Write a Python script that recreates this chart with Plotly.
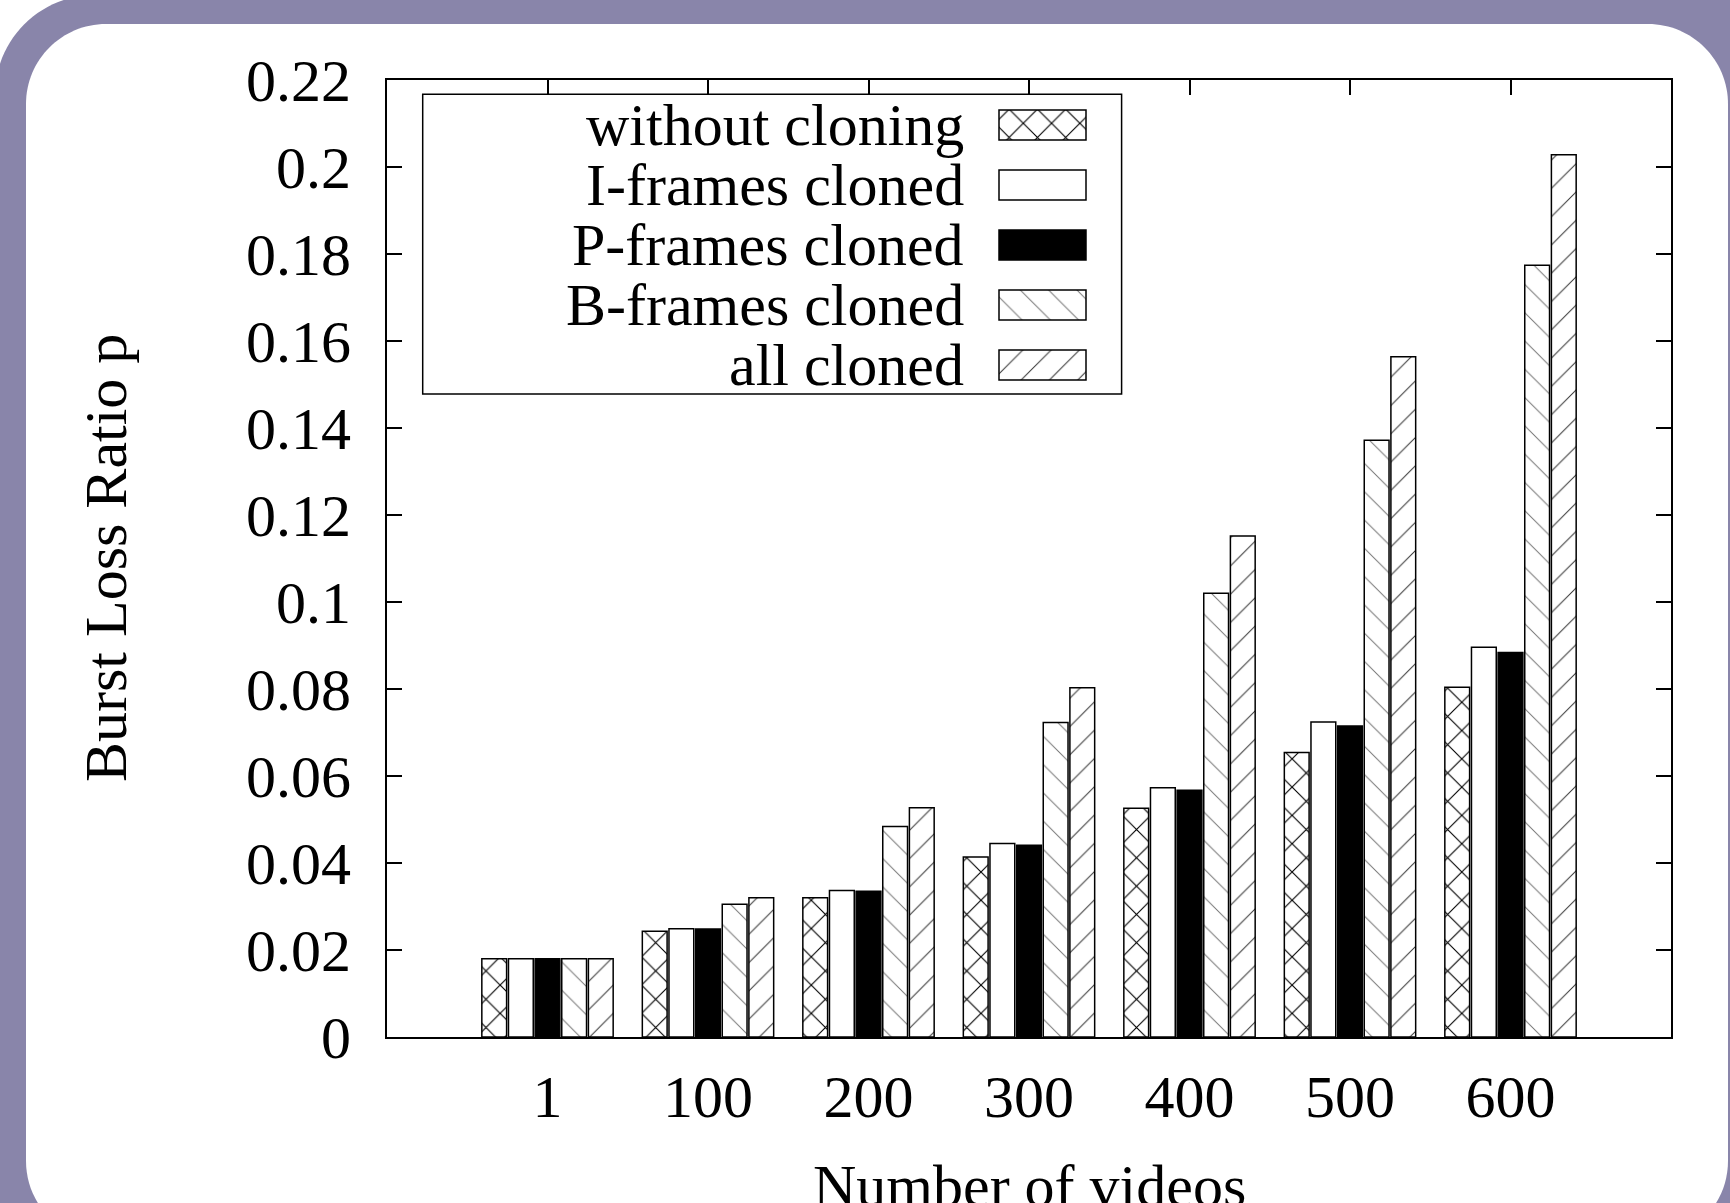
import plotly.graph_objects as go

# ---------------- data ----------------
categories = ["1", "100", "200", "300", "400", "500", "600"]
series_names = ["without cloning", "I-frames cloned", "P-frames cloned",
                "B-frames cloned", "all cloned"]
without_cloning = [0.0180, 0.0243, 0.0320, 0.0414, 0.0526, 0.0654, 0.0804]
i_frames_cloned = [0.0180, 0.0249, 0.0337, 0.0445, 0.0573, 0.0724, 0.0896]
p_frames_cloned = [0.0180, 0.0248, 0.0335, 0.0441, 0.0567, 0.0715, 0.0884]
b_frames_cloned = [0.0180, 0.0305, 0.0484, 0.0723, 0.1020, 0.1372, 0.1774]
all_cloned = [0.0180, 0.0320, 0.0527, 0.0803, 0.1152, 0.1564, 0.2028]
y_tick_values = [0, 0.02, 0.04, 0.06, 0.08, 0.1, 0.12, 0.14, 0.16, 0.18, 0.2, 0.22]
y_tick_labels = ["0", "0.02", "0.04", "0.06", "0.08", "0.1", "0.12", "0.14",
                 "0.16", "0.18", "0.2", "0.22"]
x_title = "Number of videos"
y_title = "Burst Loss Ratio p"

values = [without_cloning, i_frames_cloned, p_frames_cloned, b_frames_cloned, all_cloned]

# ---------------- styles ----------------
FONT = "Liberation Serif"
FS = 60
W, H = 1730, 1203
ML, MR, MT, MB = 387, 59, 80, 166
PW = W - ML - MR
PH = H - MT - MB

def px(x):
    return (x - ML) / PW

def py(y):
    return (MT + PH - y) / PH

patterns = [
    dict(shape="x", size=20, solidity=0.11, fgcolor="black", bgcolor="white", fillmode="replace"),
    dict(shape="", bgcolor="white"),
    dict(shape="", bgcolor="black"),
    dict(shape="\\", size=20, solidity=0.05, fgcolor="#777777", bgcolor="white", fillmode="replace"),
    dict(shape="/", size=20, solidity=0.05, fgcolor="#333333", bgcolor="white", fillmode="replace"),
]
colors = ["white", "white", "black", "white", "white"]

fig = go.Figure()
for name, vals, pat, col in zip(series_names, values, patterns, colors):
    marker = dict(color=col, line=dict(color="black", width=1.5))
    if pat["shape"]:
        marker["pattern"] = pat
    fig.add_trace(go.Bar(x=categories, y=vals, name=name, marker=marker,
                         xaxis="x", yaxis="y", showlegend=False))

# legend samples on a hidden helper subplot
for i, (name, pat, col) in enumerate(zip(series_names, patterns, colors)):
    marker = dict(color=col, line=dict(color="black", width=1.5))
    if pat["shape"]:
        marker["pattern"] = pat
    fig.add_trace(go.Bar(x=[1], y=[i], base=0, orientation="h", width=0.5, offset=-0.25,
                         marker=marker, xaxis="x2", yaxis="y2", showlegend=False,
                         hoverinfo="skip"))

# ---------------- frame ----------------
def rounded_rect(x0, y0, x1, y1, r):
    k = 0.5523 * r
    def P(x, y):
        return "%.5f,%.5f" % (px(x), py(y))
    d = "M" + P(x0 + r, y0)
    d += " L" + P(x1 - r, y0)
    d += " C" + P(x1 - r + k, y0) + " " + P(x1, y0 + r - k) + " " + P(x1, y0 + r)
    d += " L" + P(x1, y1 - r)
    d += " C" + P(x1, y1 - r + k) + " " + P(x1 - r + k, y1) + " " + P(x1 - r, y1)
    d += " L" + P(x0 + r, y1)
    d += " C" + P(x0 + r - k, y1) + " " + P(x0, y1 - r + k) + " " + P(x0, y1 - r)
    d += " L" + P(x0, y0 + r)
    d += " C" + P(x0, y0 + r - k) + " " + P(x0 + r - k, y0) + " " + P(x0 + r, y0)
    d += " Z"
    return d

shapes = [
    dict(type="path", xref="paper", yref="paper", layer="below",
         path=rounded_rect(-5, -5, 1800, 1320, 100),
         fillcolor="#8985aa", line=dict(width=0)),
    dict(type="path", xref="paper", yref="paper", layer="below",
         path=rounded_rect(26, 24, 1728, 1241, 80),
         fillcolor="white", line=dict(width=0)),
    # legend box
    dict(type="rect", xref="paper", yref="paper", layer="above",
         x0=px(422.7), x1=px(1121.6), y0=py(94.3), y1=py(394),
         line=dict(color="black", width=1.5), fillcolor="rgba(0,0,0,0)"),
]

annotations = []
row_y = [125, 185, 245, 305, 365]
for name, ry in zip(series_names, row_y):
    annotations.append(dict(text=name, xref="paper", yref="paper", x=px(966), y=py(ry),
                            xanchor="right", yanchor="middle", showarrow=False,
                            font=dict(family=FONT, size=FS, color="black")))
annotations.append(dict(text=x_title, xref="paper", yref="paper", x=px(1029), y=py(1186),
                        xanchor="center", yanchor="middle", showarrow=False,
                        font=dict(family=FONT, size=FS, color="black")))
annotations.append(dict(text=y_title, xref="paper", yref="paper", x=px(106), y=py(558),
                        xanchor="center", yanchor="middle", showarrow=False, textangle=-90,
                        font=dict(family=FONT, size=FS, color="black")))

# helper axis for legend samples (pixel-based domain)
lx0, lx1 = 995, 1090
sample_x0, sample_x1 = 999, 1086
xr0 = (lx0 - sample_x0) / (sample_x1 - sample_x0)
xr1 = 1 + (lx1 - sample_x1) / (sample_x1 - sample_x0)

fig.update_layout(
    width=W, height=H,
    margin=dict(l=ML, r=MR, t=MT, b=MB, pad=0),
    paper_bgcolor="white", plot_bgcolor="white",
    barmode="group", bargap=0.17, bargroupgap=0.07,
    showlegend=False,
    font=dict(family=FONT, size=FS, color="black"),
    shapes=shapes, annotations=annotations,
    xaxis=dict(type="category", range=[-1, 7], showgrid=False, zeroline=False,
               showline=True, linecolor="black", linewidth=2, mirror="ticks",
               ticks="inside", ticklen=15, tickwidth=2, tickcolor="black",
               tickfont=dict(family=FONT, size=FS, color="black"),
               ticklabelstandoff=6, domain=[0, 1]),
    yaxis=dict(range=[0, 0.22], showgrid=False, zeroline=False,
               tickvals=y_tick_values, ticktext=y_tick_labels,
               showline=True, linecolor="black", linewidth=2, mirror="ticks",
               ticks="inside", ticklen=15, tickwidth=2, tickcolor="black",
               tickfont=dict(family=FONT, size=FS, color="black"),
               ticklabelstandoff=22, domain=[0, 1]),
    xaxis2=dict(domain=[px(lx0), px(lx1)], range=[xr0, xr1], anchor="y2",
                visible=False, fixedrange=True),
    yaxis2=dict(domain=[py(395), py(95)], range=[4.5, -0.5], anchor="x2",
                visible=False, fixedrange=True),
)

fig.write_html("out.html")
